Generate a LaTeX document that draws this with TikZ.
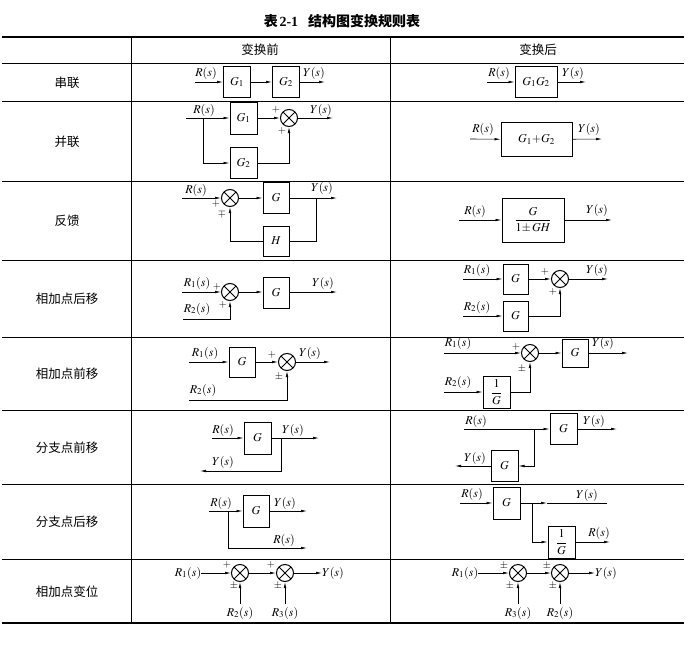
\documentclass[tikz,border=0pt]{standalone}
\usepackage{mathptmx}
\usepackage{fontspec}
\setmainfont{Liberation Serif}
\newfontfamily\cjk{Noto Sans CJK SC}
\usetikzlibrary{arrows.meta}
\tikzset{
  ln/.style={line width=0.6pt},
  arr/.style={ln,-{Latex[length=6pt,width=2.6pt]}},
  blk/.style={draw,line width=1pt,minimum width=27pt,minimum height=31pt,inner sep=0pt,font=\fontsize{12}{14}\selectfont},
  sumj/.style={draw,circle,line width=1pt,minimum size=17pt,inner sep=0pt,
    path picture={\draw[line width=0.9pt] (path picture bounding box.north west)--(path picture bounding box.south east)
      (path picture bounding box.north east)--(path picture bounding box.south west);}},
  lbl/.style={inner sep=0pt,font=\fontsize{12}{14}\selectfont},
  sgn/.style={inner sep=0pt,font=\fontsize{10.5}{12}\selectfont},
  rowlbl/.style={inner sep=0pt,font=\cjk\fontsize{12.5}{14}\selectfont},
  thin/.style={line width=0.7pt},
  thick rule/.style={line width=1.4pt},
}
\begin{document}
\begin{tikzpicture}[x=1pt,y=-1pt]
\useasboundingbox (0,0) rectangle (691,648);
% title
\node[inner sep=0pt] (title) at (342,21) {{\cjk\bfseries\fontsize{14}{16}\selectfont 表}\,{\bfseries\fontsize{14}{16}\selectfont 2-1}\quad{\cjk\bfseries\fontsize{14}{16}\selectfont 结构图变换规则表}};
% table
\coordinate (tl) at (2,37); \coordinate (tr) at (684,37);
\coordinate (bl) at (2,623); \coordinate (br) at (684,623);
\draw[thick rule] (tl) -- (tr);
\draw[thick rule] (bl) -- (br);
\foreach \yy in {63,101,181,260,337,410,484,559}{\draw[thin] (2,\yy) -- (684,\yy);}
\draw[thin] (131,37) -- (131,623);
\draw[thin] (390,37) -- (390,623);
% header
\node[rowlbl] (h1) at (260,50) {变换前};
\node[rowlbl] (h2) at (538,50) {变换后};
% row labels
\node[rowlbl] (l1) at (67,83) {串联};
\node[rowlbl] (l2) at (67,142) {并联};
\node[rowlbl] (l3) at (67,221) {反馈};
\node[rowlbl] (l4) at (67,299) {相加点后移};
\node[rowlbl] (l5) at (67,374) {相加点前移};
\node[rowlbl] (l6) at (67,448) {分支点前移};
\node[rowlbl] (l7) at (67,522) {分支点后移};
\node[rowlbl] (l8) at (67,592) {相加点变位};

% ===== row 1 left
\coordinate (a1in) at (195,82);
\node[blk] (a1g1) at (237,82) {$G_1$};
\node[blk] (a1g2) at (286,82) {$G_2$};
\coordinate (a1out) at (325,82);
\draw[arr] (a1in) -- (a1g1);
\draw[arr] (a1g1) -- (a1g2);
\draw[arr] (a1g2) -- (a1out);
\node[lbl] (a1r) at (206,73) {$R(s)$};
\node[lbl] (a1y) at (314,73) {$Y(s)$};
% row 1 right
\coordinate (a2in) at (487,82);
\node[blk,minimum width=42pt] (a2g) at (536,82) {$G_1G_2$};
\coordinate (a2out) at (586,82);
\draw[arr] (a2in) -- (a2g);
\draw[arr] (a2g) -- (a2out);
\node[lbl] (a2r) at (499,73) {$R(s)$};
\node[lbl] (a2y) at (573,73) {$Y(s)$};

% ===== row 2 left
\coordinate (b1in) at (186,118);
\coordinate (b1br) at (203,118);
\node[blk,minimum height=32pt] (b1g1) at (243.5,118) {$G_1$};
\node[blk] (b1g2) at (243.5,163) {$G_2$};
\node[sumj] (b1s) at (289,118) {};
\coordinate (b1out) at (333,118);
\draw[arr] (b1in) -- (b1g1);
\draw[arr] (b1br) |- (b1g2);
\draw[arr] (b1g1) -- (b1s);
\draw[arr] (b1g2) -| (b1s);
\draw[arr] (b1s) -- (b1out);
\node[lbl] (b1r) at (204,110) {$R(s)$};
\node[lbl] (b1y) at (321,110) {$Y(s)$};
\node[sgn] (b1p1) at (276,110) {$+$};
\node[sgn] (b1p2) at (282,131) {$+$};
% row 2 right
\coordinate (b2in) at (470,139);
\node[blk,minimum width=71pt,minimum height=34pt] (b2g) at (536.5,139.5) {$G_1{+}G_2$};
\coordinate (b2out) at (602,139);
\draw[arr] (b2in) -- (b2g);
\draw[arr] (b2g) -- (b2out);
\node[lbl] (b2r) at (483,129) {$R(s)$};
\node[lbl] (b2y) at (589,129) {$Y(s)$};

% ===== row 3 left
\coordinate (c1in) at (182,198);
\node[sumj] (c1s) at (230,198) {};
\node[blk,minimum width=26pt] (c1g) at (276,198) {$G$};
\coordinate (c1br) at (316,198);
\coordinate (c1out) at (337,198);
\node[blk,minimum width=26pt,minimum height=30pt] (c1h) at (276,241) {$H$};
\draw[arr] (c1in) -- (c1s);
\draw[arr] (c1s) -- (c1g);
\draw[arr] (c1g) -- (c1out);
\draw[ln] (c1br) |- (c1h);
\draw[arr] (c1h) -| (c1s);
\node[lbl] (c1r) at (196,190) {$R(s)$};
\node[lbl] (c1y) at (322,188) {$Y(s)$};
\node[sgn] (c1p1) at (216,204) {$+$};
\node[sgn] (c1p2) at (222,214) {$\mp$};
% row 3 right
\coordinate (c2in) at (459,220);
\node[blk,minimum width=62pt,minimum height=44pt] (c2g) at (533,220) {$\displaystyle\frac{G}{1{\pm}\,GH}$};
\coordinate (c2out) at (612,220);
\draw[arr] (c2in) -- (c2g);
\draw[arr] (c2g) -- (c2out);
\node[lbl] (c2r) at (475,211) {$R(s)$};
\node[lbl] (c2y) at (597,210) {$Y(s)$};

% ===== row 4 left
\coordinate (d1in) at (182,292);
\node[sumj] (d1s) at (230,292) {};
\node[blk,minimum width=26pt] (d1g) at (276,293) {$G$};
\coordinate (d1out) at (337,292);
\coordinate (d1in2) at (183,319);
\draw[arr] (d1in) -- (d1s);
\draw[arr] (d1s) -- (d1s -| d1g.west);
\draw[arr] (d1g.east |- d1out) -- (d1out);
\draw[arr] (d1in2) -| (d1s);
\node[lbl] (d1r1) at (197,283) {$R_1(s)$};
\node[lbl] (d1r2) at (197,309) {$R_2(s)$};
\node[lbl] (d1y) at (323,283) {$Y(s)$};
\node[sgn] (d1p1) at (217,287) {$+$};
\node[sgn] (d1p2) at (223,305) {$+$};
% row 4 right
\coordinate (d2in1) at (463,279);
\coordinate (d2in2) at (463,316);
\node[blk,minimum width=25pt,minimum height=30pt] (d2g1) at (515.5,279) {$G$};
\node[blk,minimum width=25pt,minimum height=30pt] (d2g2) at (515.5,316) {$G$};
\node[sumj] (d2s) at (560,279) {};
\coordinate (d2out) at (608,279);
\draw[arr] (d2in1) -- (d2g1);
\draw[arr] (d2in2) -- (d2g2);
\draw[arr] (d2g1) -- (d2s);
\draw[arr] (d2g2) -| (d2s);
\draw[arr] (d2s) -- (d2out);
\node[lbl] (d2r1) at (477,270) {$R_1(s)$};
\node[lbl] (d2r2) at (477,307) {$R_2(s)$};
\node[lbl] (d2y) at (597,270) {$Y(s)$};
\node[sgn] (d2p1) at (545,272) {$+$};
\node[sgn] (d2p2) at (553,292) {$+$};

% ===== row 5 left
\coordinate (e1in) at (189,362);
\node[blk,minimum width=26pt,minimum height=30pt] (e1g) at (242,362) {$G$};
\node[sumj] (e1s) at (287,362) {};
\coordinate (e1out) at (330,362);
\coordinate (e1in2) at (189,400);
\draw[arr] (e1in) -- (e1g);
\draw[arr] (e1g) -- (e1s);
\draw[arr] (e1s) -- (e1out);
\draw[arr] (e1in2) -| (e1s);
\node[lbl] (e1r1) at (205,353) {$R_1(s)$};
\node[lbl] (e1r2) at (203,390) {$R_2(s)$};
\node[lbl] (e1y) at (310,353) {$Y(s)$};
\node[sgn] (e1p1) at (272,355) {$+$};
\node[sgn] (e1p2) at (279,377) {$\pm$};
% row 5 right
\coordinate (e2in) at (444,353);
\node[sumj] (e2s) at (530,353) {};
\node[blk,minimum width=26pt,minimum height=28pt] (e2g) at (575,353) {$G$};
\coordinate (e2out) at (628,353);
\coordinate (e2in2) at (444,392);
\node[blk,minimum height=32pt] (e2k) at (496.5,392) {$\displaystyle\frac{1}{G}$};
\draw[arr] (e2in) -- (e2s);
\draw[arr] (e2s) -- (e2g);
\draw[arr] (e2g) -- (e2out);
\draw[arr] (e2in2) -- (e2k);
\draw[arr] (e2k) -| (e2s);
\node[lbl] (e2r1) at (458,343) {$R_1(s)$};
\node[lbl] (e2r2) at (458,382) {$R_2(s)$};
\node[lbl] (e2y) at (603,343) {$Y(s)$};
\node[sgn] (e2p1) at (516,347) {$+$};
\node[sgn] (e2p2) at (522,369) {$\pm$};

% ===== row 6 left
\coordinate (f1in) at (212,438);
\node[blk,minimum height=32pt] (f1g) at (257.5,438) {$G$};
\coordinate (f1br) at (281,438);
\coordinate (f1out) at (319,438);
\coordinate (f1back) at (200,471);
\draw[arr] (f1in) -- (f1g);
\draw[arr] (f1g) -- (f1out);
\draw[arr] (f1br) |- (f1back);
\node[lbl] (f1r) at (223,430) {$R(s)$};
\node[lbl] (f1y) at (293,430) {$Y(s)$};
\node[lbl] (f1y2) at (223,462) {$Y(s)$};
% row 6 right
\coordinate (f2in) at (464,429);
\coordinate (f2br) at (534,429);
\node[blk] (f2g) at (563.5,429) {$G$};
\coordinate (f2out) at (617,429);
\node[blk] (f2g2) at (504.5,466) {$G$};
\coordinate (f2back) at (455,466);
\draw[arr] (f2in) -- (f2g);
\draw[arr] (f2g) -- (f2out);
\draw[arr] (f2br) |- (f2g2);
\draw[arr] (f2g2) -- (f2back);
\node[lbl] (f2r) at (476,421) {$R(s)$};
\node[lbl] (f2y) at (594,421) {$Y(s)$};
\node[lbl] (f2y2) at (475,458) {$Y(s)$};

% ===== row 7 left
\coordinate (g1in) at (209,511);
\node[blk,minimum width=26pt,minimum height=32pt] (g1g) at (256,511) {$G$};
\coordinate (g1br) at (228,511);
\coordinate (g1out) at (307,511);
\coordinate (g1out2) at (307,548);
\draw[arr] (g1in) -- (g1g);
\draw[arr] (g1g) -- (g1out);
\draw[arr] (g1br) |- (g1out2);
\node[lbl] (g1r) at (221,503) {$R(s)$};
\node[lbl] (g1y) at (285,503) {$Y(s)$};
\node[lbl] (g1r2) at (284,540) {$R(s)$};
% row 7 right
\coordinate (g2in) at (460,503);
\node[blk,minimum height=32pt] (g2g) at (506.5,503) {$G$};
\coordinate (g2mid) at (547,503);
\coordinate (g2out) at (607,503);
\coordinate (g2br) at (532,503);
\node[blk,minimum height=32pt] (g2k) at (561.5,542) {$\displaystyle\frac{1}{G}$};
\coordinate (g2out2) at (610,542);
\draw[arr] (g2in) -- (g2g);
\draw[arr] (g2g) -- (g2mid);
\draw[ln] (g2mid) -- (g2out);
\draw[arr] (g2br) |- (g2k);
\draw[arr] (g2k) -- (g2out2);
\node[lbl] (g2r) at (472,494) {$R(s)$};
\node[lbl] (g2y) at (587,495) {$Y(s)$};
\node[lbl] (g2r2) at (599,533) {$R(s)$};

% ===== row 8 left
\node[lbl] (h1r1) at (188,573) {$R_1(s)$};
\node[sumj] (h1s1) at (240,573) {};
\node[sumj] (h1s2) at (285,573) {};
\node[lbl] (h1y) at (333,573) {$Y(s)$};
\coordinate (h1in2) at (240,604);
\coordinate (h1in3) at (285,604);
\draw[arr] (h1r1) -- (h1s1);
\draw[arr] (h1s1) -- (h1s2);
\draw[arr] (h1s2) -- (h1y);
\draw[arr] (h1in2) -- (h1s1);
\draw[arr] (h1in3) -- (h1s2);
\node[lbl] (h1r2) at (240,613) {$R_2(s)$};
\node[lbl] (h1r3) at (285,613) {$R_3(s)$};
\node[sgn] (h1p1) at (227,565) {$+$};
\node[sgn] (h1p2) at (234,586) {$\pm$};
\node[sgn] (h1p3) at (271,565) {$+$};
\node[sgn] (h1p4) at (278,586) {$\pm$};
% row 8 right
\node[lbl] (h2r1) at (465,573) {$R_1(s)$};
\node[sumj] (h2s1) at (518,573) {};
\node[sumj] (h2s2) at (560,573) {};
\node[lbl] (h2y) at (606,573) {$Y(s)$};
\coordinate (h2in3) at (518,604);
\coordinate (h2in2) at (560,604);
\draw[arr] (h2r1) -- (h2s1);
\draw[arr] (h2s1) -- (h2s2);
\draw[arr] (h2s2) -- (h2y);
\draw[arr] (h2in3) -- (h2s1);
\draw[arr] (h2in2) -- (h2s2);
\node[lbl] (h2r3) at (518,613) {$R_3(s)$};
\node[lbl] (h2r2) at (560,613) {$R_2(s)$};
\node[sgn] (h2p1) at (504,566) {$\pm$};
\node[sgn] (h2p2) at (510,586) {$\pm$};
\node[sgn] (h2p3) at (547,566) {$\pm$};
\node[sgn] (h2p4) at (553,586) {$\pm$};
\end{tikzpicture}
\end{document}
